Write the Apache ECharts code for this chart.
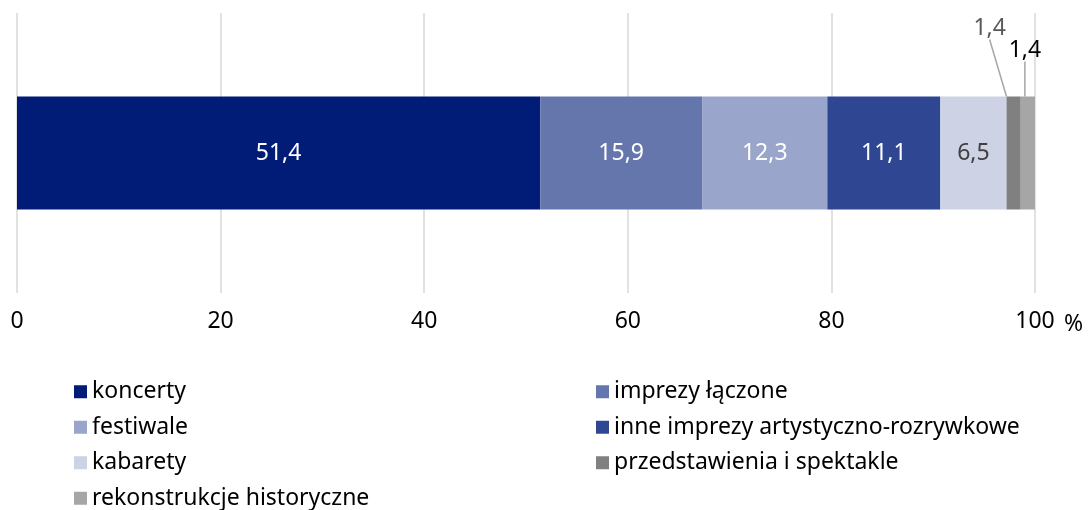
<!DOCTYPE html>
<html>
<head>
<meta charset="utf-8">
<script src="https://cdn.jsdelivr.net/npm/echarts@6/dist/echarts.min.js"></script>
<style>
    html, body { margin: 0; padding: 0; background: #fff; }
    #main { width: 1088px; height: 510px; }
</style>
</head>
<body>
<div id="main"></div>
<script type="text/javascript">
    // dane
    var categories = ['razem'];
    var seriesNames = ['koncerty', 'imprezy łączone', 'festiwale', 'inne imprezy artystyczno-rozrywkowe',
        'kabarety', 'przedstawienia i spektakle', 'rekonstrukcje historyczne'];
    var seriesValues = [51.4, 15.9, 12.3, 11.1, 6.5, 1.4, 1.4];
    var seriesColors = ['#001c77', '#6576ad', '#99a5ca', '#2f4693', '#cdd2e4', '#808080', '#a6a6a6'];
    var labelColors = ['#ffffff', '#ffffff', '#ffffff', '#ffffff', '#404040', '#595959', '#000000'];
    var tickValues = [0, 20, 40, 60, 80, 100];

    var leftLegend = ['koncerty', 'festiwale', 'kabarety', 'rekonstrukcje historyczne'];
    var rightLegend = ['imprezy łączone', 'inne imprezy artystyczno-rozrywkowe', 'przedstawienia i spektakle'];

    var font = 'Noto Sans';
    var fs = 23;
    var myChart = echarts.init(document.getElementById('main'));

    function fmt(v) {
        return v.toFixed(1).replace('.', ',');
    }

    var series = seriesNames.map(function (name, i) {
        var small = i >= 5;
        var s = {
            name: name,
            type: 'bar',
            stack: 'main',
            barWidth: 113,
            itemStyle: { color: seriesColors[i] },
            label: {
                show: true,
                position: small ? 'top' : 'inside',
                fontFamily: font,
                fontSize: fs,
                color: labelColors[i],
                formatter: function (p) { return fmt(p.value); }
            },
            data: [seriesValues[i]]
        };
        if (small) {
            s.labelLine = { show: true, lineStyle: { color: '#a6a6a6', width: 1.5 } };
            s.labelLayout = i === 5 ? { dx: -24, dy: -52 } : { dx: -3, dy: -30 };
        }
        return s;
    });

    function legendOpt(data, left) {
        return {
            data: data,
            orient: 'vertical',
            left: left,
            top: 380,
            padding: 0,
            icon: 'rect',
            itemWidth: 13,
            itemHeight: 13,
            itemGap: 12,
            textStyle: { fontFamily: font, fontSize: fs, lineHeight: 23.5, color: '#000' }
        };
    }

    myChart.setOption({
        animation: false,
        textStyle: { fontFamily: font },
        grid: {
            left: 17,
            right: 53,
            top: 13,
            bottom: 217,
            containLabel: false
        },
        legend: [legendOpt(leftLegend, 74), legendOpt(rightLegend, 596)],
        xAxis: {
            type: 'value',
            min: tickValues[0],
            max: tickValues[tickValues.length - 1],
            interval: 20,
            axisLine: { show: false },
            axisTick: { show: false },
            splitLine: { show: true, lineStyle: { color: '#d9d9d9', width: 1.5 } },
            axisLabel: {
                margin: 17,
                fontFamily: font,
                fontSize: fs,
                color: '#000'
            }
        },
        yAxis: {
            type: 'category',
            data: categories,
            axisLine: { show: false },
            axisTick: { show: false },
            axisLabel: { show: false }
        },
        graphic: [
            {
                type: 'text',
                x: 1064,
                y: 324,
                style: { text: '%', font: fs + 'px "Noto Sans"', fill: '#000', verticalAlign: 'middle' }
            }
        ],
        series: series
    });
</script>
</body>
</html>
